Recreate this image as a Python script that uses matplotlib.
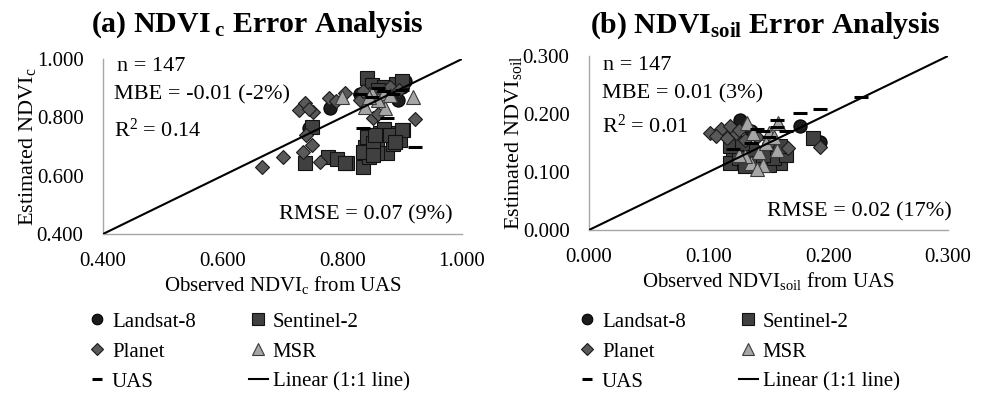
import matplotlib
matplotlib.use('Agg')
import matplotlib.pyplot as plt
from matplotlib.lines import Line2D

plt.rcParams['font.family'] = 'Liberation Serif'
plt.rcParams['mathtext.fontset'] = 'custom'
plt.rcParams['mathtext.rm'] = 'Liberation Serif'
plt.rcParams['mathtext.it'] = 'Liberation Serif:italic'
plt.rcParams['mathtext.bf'] = 'Liberation Serif:bold'

# ---- (a) NDVI_c : observed (UAS) vs estimated ----
a_landsat_x = [0.745, 0.779, 0.893, 0.850, 0.900, 0.870, 0.830, 0.880, 0.905]
a_landsat_y = [0.765, 0.832, 0.859, 0.895, 0.905, 0.885, 0.880, 0.900, 0.925]
a_sentinel_x = [0.738, 0.776, 0.791, 0.808, 0.835, 0.838, 0.841, 0.858, 0.874, 0.863,
                0.883, 0.902, 0.897, 0.858, 0.749, 0.845, 0.870, 0.885, 0.835, 0.852,
                0.855, 0.880, 0.899, 0.888, 0.851, 0.804, 0.841, 0.850, 0.870, 0.890,
                0.860, 0.900]
a_sentinel_y = [0.643, 0.664, 0.657, 0.643, 0.630, 0.700, 0.733, 0.722, 0.677, 0.746,
                0.746, 0.757, 0.722, 0.677, 0.767, 0.665, 0.760, 0.710, 0.682, 0.711,
                0.739, 0.739, 0.757, 0.716, 0.671, 0.642, 0.935, 0.910, 0.905, 0.915,
                0.895, 0.925]
a_planet_x = [0.665, 0.701, 0.728, 0.738, 0.751, 0.777, 0.804, 0.830, 0.852, 0.921,
              0.734, 0.749, 0.763, 0.740, 0.745, 0.790, 0.845, 0.880, 0.860, 0.865,
              0.895, 0.835]
a_planet_y = [0.631, 0.665, 0.825, 0.848, 0.819, 0.865, 0.882, 0.859, 0.797, 0.794,
              0.682, 0.705, 0.648, 0.739, 0.830, 0.855, 0.880, 0.905, 0.810, 0.875,
              0.895, 0.890]
a_msr_x = [0.918, 0.871, 0.838, 0.850, 0.870, 0.799, 0.860, 0.845, 0.880]
a_msr_y = [0.870, 0.832, 0.836, 0.885, 0.885, 0.870, 0.860, 0.870, 0.875]
a_uas_x = [0.835, 0.874, 0.921, 0.850, 0.830, 0.870, 0.900, 0.860, 0.885]
a_uas_y = [0.763, 0.797, 0.700, 0.870, 0.880, 0.890, 0.895, 0.900, 0.880]

# ---- (b) NDVI_soil ----
b_landsat_x = [0.193, 0.176, 0.126, 0.135]
b_landsat_y = [0.152, 0.179, 0.190, 0.170]
b_sentinel_x = [0.187, 0.120, 0.118, 0.160, 0.125, 0.130, 0.140, 0.150, 0.155, 0.145,
                0.118, 0.135, 0.165, 0.160, 0.128]
b_sentinel_y = [0.159, 0.138, 0.115, 0.115, 0.125, 0.110, 0.118, 0.112, 0.125, 0.130,
                0.145, 0.140, 0.130, 0.145, 0.150]
b_planet_x = [0.101, 0.110, 0.123, 0.118, 0.166, 0.193, 0.130, 0.106, 0.115, 0.140,
              0.125, 0.150]
b_planet_y = [0.167, 0.175, 0.167, 0.180, 0.141, 0.143, 0.155, 0.162, 0.158, 0.160,
              0.172, 0.150]
b_msr_x = [0.132, 0.158, 0.137, 0.150, 0.157, 0.135, 0.145, 0.142, 0.130, 0.148,
           0.140, 0.155, 0.125]
b_msr_y = [0.184, 0.184, 0.167, 0.167, 0.138, 0.115, 0.112, 0.134, 0.128, 0.150,
           0.105, 0.160, 0.130]
b_uas_x = [0.227, 0.193, 0.176, 0.157, 0.157, 0.145, 0.120, 0.135, 0.150, 0.140, 0.165]
b_uas_y = [0.229, 0.208, 0.201, 0.190, 0.178, 0.170, 0.140, 0.150, 0.160, 0.175, 0.170]

a_ticks = [0.4, 0.6, 0.8, 1.0]
b_ticks = [0.0, 0.1, 0.2, 0.3]

a_stats = ['n = 147', 'MBE = -0.01 (-2%)', 'R$^2$ = 0.14', 'RMSE = 0.07 (9%)']
b_stats = ['n = 147', 'MBE = 0.01 (3%)', 'R$^2$ = 0.01', 'RMSE = 0.02 (17%)']

# marker styles per sensor
sty_landsat = dict(marker='o', ms=9.5, mfc='#1c1c1c', mec='#000000', mew=0.8, ls='none')
sty_sentinel = dict(marker='s', ms=10, mfc='#404040', mec='#111111', mew=0.8, ls='none')
sty_planet = dict(marker='D', ms=7.5, mfc='#595959', mec='#1a1a1a', mew=0.8, ls='none')
sty_msr = dict(marker='^', ms=10, mfc='#a6a6a6', mec='#3a3a3a', mew=0.8, ls='none')
sty_uas = dict(marker='_', ms=9.5, mec='#000000', mew=2.2, ls='none')

fig = plt.figure(figsize=(9.81, 3.94), dpi=100)
axa = fig.add_axes([103/981, 1-234/394, 359/981, 175/394])
axb = fig.add_axes([589/981, 1-230/394, 359/981, 174/394])


def panel(ax, lx, ly, sx, sy, px, py, mx, my, ux, uy, ticks, stats, pos):
    ax.plot(lx, ly, **sty_landsat)
    ax.plot(sx, sy, **sty_sentinel)
    ax.plot(px, py, **sty_planet)
    ax.plot(mx, my, **sty_msr)
    ax.plot(ux, uy, **sty_uas)
    lo, hi = ticks[0], ticks[-1]
    ax.plot([lo, hi], [lo, hi], color='black', lw=1.5)
    ax.set_xlim(lo, hi)
    ax.set_ylim(lo, hi)
    ax.set_xticks(ticks)
    ax.set_yticks(ticks)
    ax.set_xticklabels(['%.3f' % t for t in ticks])
    ax.set_yticklabels(['%.3f' % t for t in ticks])
    ax.tick_params(length=0, labelsize=15)
    ax.tick_params(axis='y', pad=14)
    ax.tick_params(axis='x', pad=13)
    for s in ['top', 'right']:
        ax.spines[s].set_visible(False)
    for s in ['left', 'bottom']:
        ax.spines[s].set_color('#a6a6a6')
        ax.spines[s].set_linewidth(1.0)
    for sp in ax.spines.values():
        sp.set_zorder(0)
    for (x, y), s in zip(pos[:3], stats[:3]):
        ax.text(x, y, s, transform=ax.transAxes, fontsize=16, va='center')
    x, y = pos[3]
    ax.text(x, y, stats[3], transform=ax.transAxes, fontsize=16, va='center', ha='right')

    handles = [Line2D([], [], **sty_landsat), Line2D([], [], **sty_planet),
               Line2D([], [], **sty_uas), Line2D([], [], **sty_sentinel),
               Line2D([], [], **sty_msr), Line2D([], [], color='black', lw=1.5)]
    labels = ['Landsat-8', 'Planet', 'UAS', 'Sentinel-2', 'MSR', 'Linear (1:1 line)']
    return handles, labels


leg_kw = dict(ncol=2, loc='upper left', bbox_transform=fig.transFigure, frameon=False,
              fontsize=15, handlelength=0.9, handletextpad=0.25, columnspacing=2.55,
              labelspacing=0.5, borderpad=0, borderaxespad=0, numpoints=1,
              markerscale=0.8)

h, l = panel(axa, a_landsat_x, a_landsat_y, a_sentinel_x, a_sentinel_y, a_planet_x, a_planet_y,
             a_msr_x, a_msr_y, a_uas_x, a_uas_y, a_ticks, a_stats,
             [(0.04, 0.955), (0.03, 0.795), (0.03, 0.595), (0.975, 0.11)])
axa.set_xlabel('Observed NDVI$_\\mathrm{c}$ from UAS', fontsize=15, labelpad=2)
axa.set_ylabel('Estimated NDVI$_\\mathrm{c}$', fontsize=16, labelpad=-1)
axa.legend(h, l, bbox_to_anchor=(88/981, 1-312/394), **leg_kw)

h, l = panel(axb, b_landsat_x, b_landsat_y, b_sentinel_x, b_sentinel_y, b_planet_x, b_planet_y,
             b_msr_x, b_msr_y, b_uas_x, b_uas_y, b_ticks, b_stats,
             [(0.039, 0.945), (0.036, 0.785), (0.036, 0.595), (1.01, 0.105)])
axb.set_xlabel('Observed NDVI$_\\mathrm{soil}$ from UAS', fontsize=15, labelpad=2)
axb.set_ylabel('Estimated NDVI$_\\mathrm{soil}$', fontsize=16, labelpad=-1)
axb.legend(h, l, bbox_to_anchor=(578/981, 1-312/394), **leg_kw)

fig.text(257/981, 1-25/394, '(a) NDVI$_{\\mathbf{\\ c}}$ Error Analysis', fontsize=21.5,
         fontweight='bold', ha='center', va='center')
fig.text(765/981, 1-26/394, '(b) NDVI$_{\\mathbf{soil}}$ Error Analysis', fontsize=21.5,
         fontweight='bold', ha='center', va='center')

fig.savefig('out.png', dpi=100)
